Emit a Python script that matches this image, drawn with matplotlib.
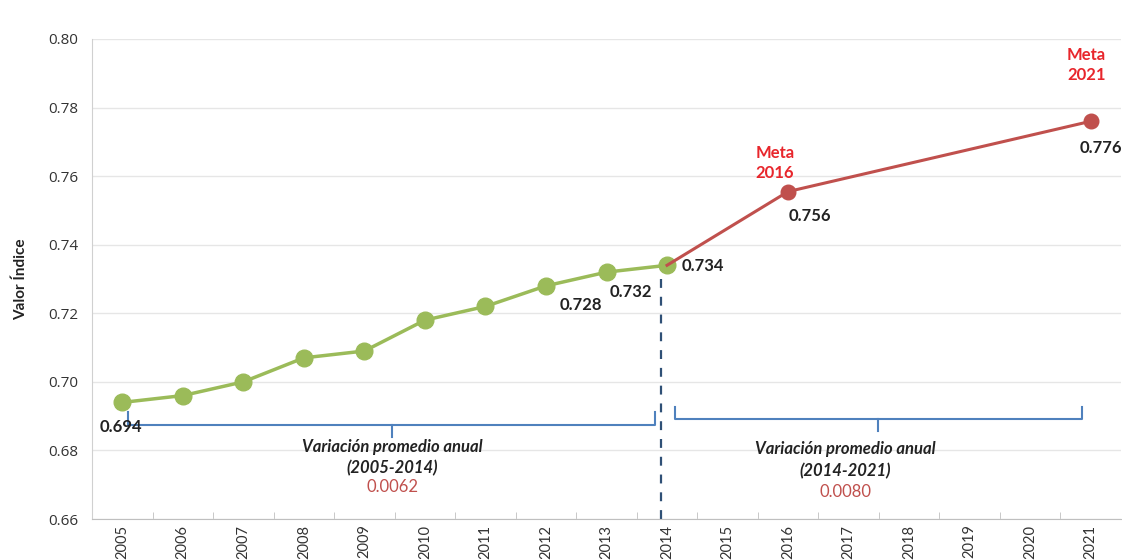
import matplotlib
matplotlib.use("Agg")
import matplotlib.pyplot as plt
from matplotlib.ticker import FixedLocator, MultipleLocator

# ---- data ----
years = list(range(2005, 2022))
hist_years = [2005, 2006, 2007, 2008, 2009, 2010, 2011, 2012, 2013, 2014]
hist_vals = [0.694, 0.696, 0.700, 0.707, 0.709, 0.718, 0.722, 0.728, 0.732, 0.734]
meta_years = [2014, 2016, 2021]
meta_vals = [0.734, 0.7555, 0.776]

# value labels: (year, value, text)
hist_labels = [(2005, 0.694, "0.694"), (2012, 0.728, "0.728"),
               (2013, 0.732, "0.732"), (2014, 0.734, "0.734")]
meta_labels = [(2016, 0.7555, "0.756"), (2021, 0.776, "0.776")]
meta_titles = [(2016, 0.7555, "Meta\n2016"), (2021, 0.776, "Meta\n2021")]

periods = ["(2005-2014)", "(2014-2021)"]
period_rates = ["0.0062", "0.0080"]

GREEN = "#9bbb59"
RED = "#c0504d"
BLUE = "#4f81bd"
TXT = "#222222"

plt.rcParams["font.family"] = ["Lato", "DejaVu Sans"]

fig = plt.figure(figsize=(11.22, 5.6), dpi=100)
ax = fig.add_axes([92 / 1122, 41 / 560, 1029 / 1122, 480 / 560])

ax.set_xlim(2004.5, 2021.5)
ax.set_ylim(0.66, 0.80)
ax.yaxis.set_major_locator(MultipleLocator(0.02))
ax.set_yticklabels([f"{v:.2f}" for v in ax.get_yticks()], fontfamily="Open Sans")
ax.tick_params(axis="y", length=0, labelsize=11, colors="#333333", pad=10)
ax.grid(axis="y", color="#e6e6e6", linewidth=1)
ax.set_axisbelow(True)

ax.xaxis.set_major_locator(FixedLocator(years))
ax.set_xticklabels([str(y) for y in years], rotation=90, fontsize=10.5, color="#333333")
ax.xaxis.set_minor_locator(FixedLocator([y + 0.5 for y in years[:-1]]))
ax.tick_params(axis="x", which="major", length=0, pad=4)
ax.tick_params(axis="x", which="minor", direction="in", length=5, color="#bfbfbf")

for s in ["top", "right"]:
    ax.spines[s].set_visible(False)
ax.spines["left"].set_color("#d0d0d0")
ax.spines["bottom"].set_color("#bfbfbf")

ax.set_ylabel("Valor Índice", fontsize=11, fontweight="bold", color=TXT, labelpad=14)

# dashed line at 2014
ax.plot([2013.9, 2013.9], [0.66, 0.734], color="#2f5076", linewidth=1.6,
        linestyle=(0, (4, 4)), zorder=2)

# series
ax.plot(hist_years, hist_vals, color=GREEN, linewidth=2.5, marker="o",
        markersize=12, zorder=3)
ax.plot(meta_years, meta_vals, color=RED, linewidth=2.2, zorder=4)
ax.plot(meta_years[1:], meta_vals[1:], color=RED, linestyle="none", marker="o",
        markersize=10.5, zorder=4)

# value labels
lbl = dict(fontsize=12, fontweight="bold", color=TXT, ha="center", va="center")
ax.text(2004.98, 0.6868, hist_labels[0][2], **lbl)
ax.text(2012.58, 0.7224, hist_labels[1][2], **lbl)
ax.text(2013.41, 0.7262, hist_labels[2][2], **lbl)
ax.text(2014.6, 0.7338, hist_labels[3][2], **lbl)
ax.text(2016.36, 0.7484, meta_labels[0][2], **lbl)
ax.text(2021.16, 0.7682, meta_labels[1][2], **lbl)

mt = dict(fontsize=12, fontweight="bold", color="#e8262c", ha="center",
          va="center", linespacing=1.25)
ax.text(2015.78, 0.7638, meta_titles[0][2], **mt)
ax.text(2020.93, 0.7924, meta_titles[1][2], **mt)

# braces
def brace(x0, x1, xm, y, ytop, ybot):
    ax.plot([x0, x0, x1, x1], [ytop, y, y, ytop], color=BLUE, linewidth=1.5,
            solid_joinstyle="round", zorder=2)
    ax.plot([xm, xm], [y, ybot], color=BLUE, linewidth=1.5, zorder=2)

brace(2005.1, 2013.8, 2009.46, 0.6875, 0.6913, 0.6838)
brace(2014.13, 2020.85, 2017.49, 0.6892, 0.6928, 0.6857)

vt = dict(fontsize=12, fontweight="bold", style="italic", color=TXT, ha="center", va="center")
ax.text(2009.46, 0.6810, "Variación promedio anual", **vt)
ax.text(2009.46, 0.6748, periods[0], **vt)
ax.text(2009.46, 0.6692, period_rates[0], fontsize=12, color=RED, ha="center", va="center")
ax.text(2016.95, 0.6803, "Variación promedio anual", **vt)
ax.text(2016.95, 0.6740, periods[1], **vt)
ax.text(2016.95, 0.6678, period_rates[1], fontsize=12, color=RED, ha="center", va="center")

fig.savefig("out.png", dpi=100)
